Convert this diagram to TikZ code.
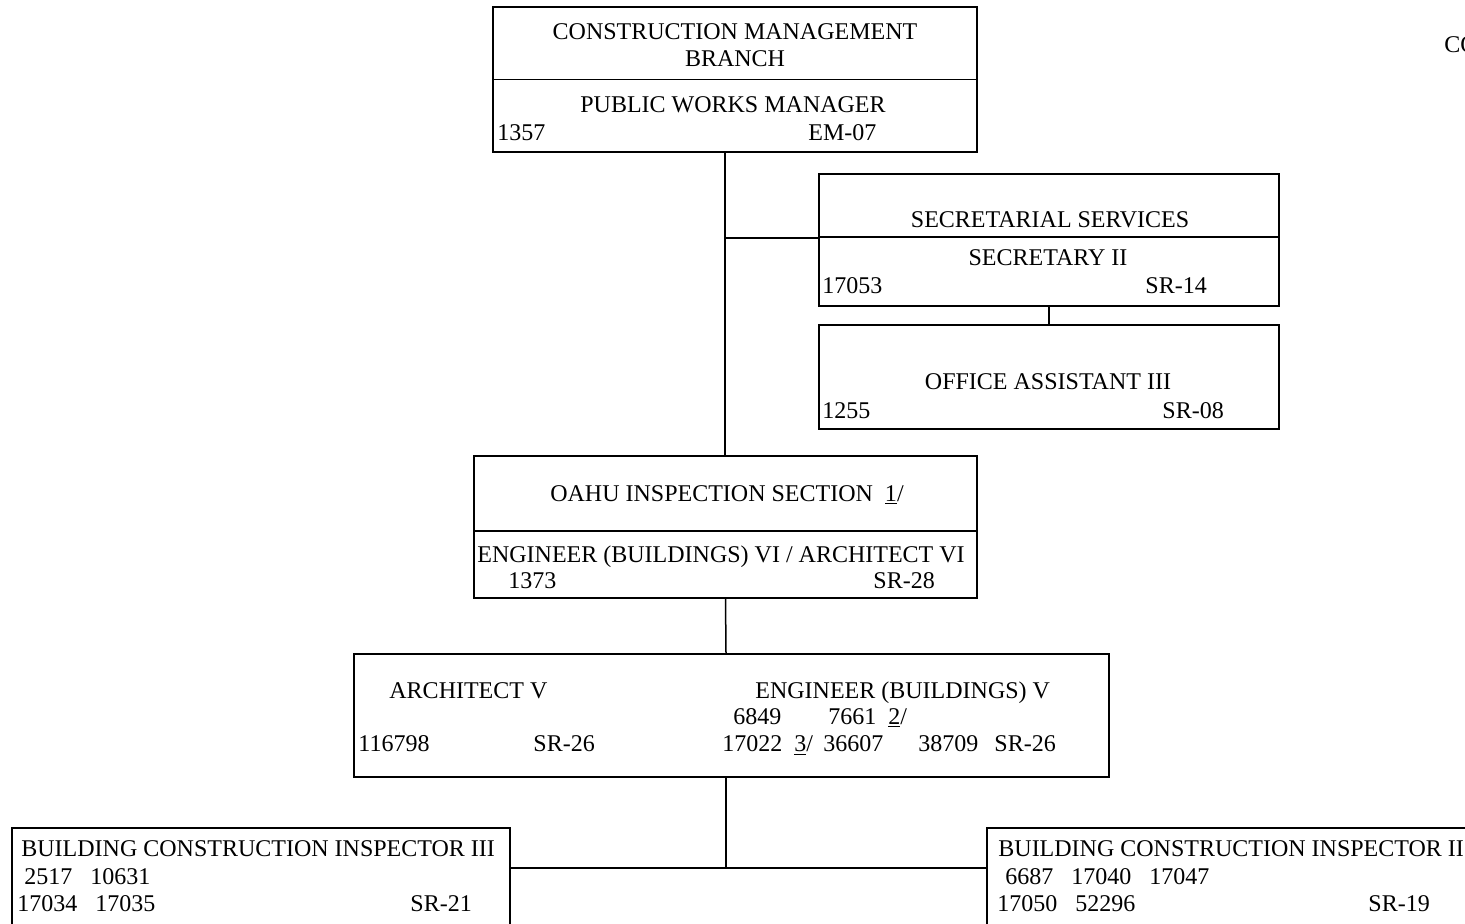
\documentclass[tikz,border=0pt]{standalone}
\usepackage{fontspec}
\setmainfont{Liberation Serif}
\usepackage{xcolor}
\definecolor{cInk}{HTML}{000000}
\usepackage{tikz}
\usetikzlibrary{positioning}
\tikzset{
  org-box/.style={draw=cInk,line width=0.75pt,rectangle,inner sep=0pt},
  org-text/.style={inner sep=0pt,anchor=base,text=cInk,
    font=\fontsize{12pt}{14pt}\selectfont},
  org-left/.style={org-text,anchor=base west},
  org-line/.style={draw=cInk,line width=0.75pt},
}

\begin{document}
\begin{tikzpicture}[x=0.5pt,y=-0.5pt]
  \useasboundingbox (0,0) rectangle (1465,923);
  \clip (0,0) rectangle (1465,923);
  % boxes
  \node[org-box,minimum width=242pt,minimum height=72.5pt]  (cmb)    at (735,79.5) {};
  \node[org-box,minimum width=230pt,minimum height=66pt]    (sec)    at (1049,240) {};
  \node[org-box,minimum width=230pt,minimum height=52pt]    (office) at (1049,377) {};
  \node[org-box,minimum width=251.5pt,minimum height=71pt]  (oahu)   at (725.5,527) {};
  \node[org-box,minimum width=377.5pt,minimum height=61.5pt] (arch)  at (731.5,715.5) {};
  \node[org-box,minimum width=249pt,minimum height=60pt]    (bci3)   at (261,888) {};
  \node[org-box,minimum width=250pt,minimum height=60pt]    (bci2)   at (1237,888) {};
  \draw[org-line] (cmb.west) -- (cmb.east);
  \draw[org-line] ([yshift=1.5pt]sec.west) -- ([yshift=1.5pt]sec.east);
  \draw[org-line] ([yshift=-2pt]oahu.west) -- ([yshift=-2pt]oahu.east);

  % texts
  \node[org-text] (cmb-t1) at (735,39) {CONSTRUCTION MANAGEMENT};
  \node[org-text] (cmb-t2) at (735,66) {BRANCH};
  \node[org-text] (cmb-t3) at (733,112) {PUBLIC WORKS MANAGER};
  \node[org-left] (cmb-n)  at (497,140) {1357};
  \node[org-left] (cmb-g)  at (808,140) {EM-07};
  \node[org-left] (corner) at (1444,52) {CO};

  \node[org-text] (sec-t1) at (1050,227) {SECRETARIAL SERVICES};
  \node[org-text] (sec-t2) at (1048,265) {SECRETARY II};
  \node[org-left] (sec-n)  at (822,293) {17053};
  \node[org-left] (sec-g)  at (1145,293) {SR-14};

  \node[org-text] (off-t)  at (1048,389) {OFFICE ASSISTANT III};
  \node[org-left] (off-n)  at (822,418) {1255};
  \node[org-left] (off-g)  at (1162,418) {SR-08};

  \node[org-text] (oahu-t1) at (727,501) {OAHU INSPECTION SECTION \ \underline{1}/};
  \node[org-left] (oahu-t2) at (477,562) {ENGINEER (BUILDINGS) VI / ARCHITECT VI};
  \node[org-left] (oahu-n)  at (508,588) {1373};
  \node[org-left] (oahu-g)  at (873,588) {SR-28};

  \node[org-left] (arch-t1) at (389,698) {ARCHITECT V};
  \node[org-left] (arch-t2) at (755,698) {ENGINEER (BUILDINGS) V};
  \node[org-left] (arch-n1) at (733,724) {6849};
  \node[org-left] (arch-n2) at (828,724) {7661 \ \underline{2}/};
  \node[org-left] (arch-n3) at (358,751) {116798};
  \node[org-left] (arch-g1) at (533,751) {SR-26};
  \node[org-left] (arch-n4) at (722,751) {17022 \ \underline{3}/};
  \node[org-left] (arch-n5) at (823,751) {36607};
  \node[org-left] (arch-n6) at (918,751) {38709};
  \node[org-left] (arch-g2) at (994,751) {SR-26};

  \node[org-left] (bci3-t) at (21,856) {BUILDING CONSTRUCTION INSPECTOR III};
  \node[org-left] (bci3-n1) at (24,884) {2517 \ \ 10631};
  \node[org-left] (bci3-n2) at (17,911) {17034 \ \ 17035};
  \node[org-left] (bci3-g) at (410,911) {SR-21};

  \node[org-left] (bci2-t) at (998,856) {BUILDING CONSTRUCTION INSPECTOR II};
  \node[org-left] (bci2-n1) at (1005,884) {6687 \ \ 17040 \ \ 17047};
  \node[org-left] (bci2-n2) at (997,911) {17050 \ \ 52296};
  \node[org-left] (bci2-g) at (1368,911) {SR-19};

  % connectors
  \coordinate (spine) at (725,238);
  \coordinate (fork)  at (726,868);
  \draw[org-line] (cmb.south -| spine) -- (oahu.north -| spine);
  \draw[org-line] (spine) -- (spine -| sec.west);
  \draw[org-line] (sec.south) -- (office.north);
  \draw[org-line] (oahu.south) -- (arch.north -| fork);
  \draw[org-line] (arch.south -| fork) -- (fork);
  \draw[org-line] (bci3.east |- fork) -- (bci2.west |- fork);
\end{tikzpicture}
\end{document}
